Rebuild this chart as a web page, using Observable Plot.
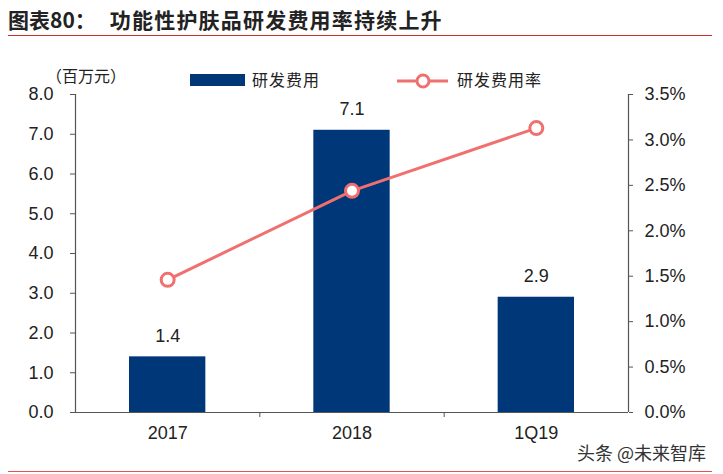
<!DOCTYPE html>
<html><head><meta charset="utf-8">
<script src="https://cdn.jsdelivr.net/npm/d3@7"></script>
<script src="https://cdn.jsdelivr.net/npm/@observablehq/plot@0.6"></script>
<style>
html,body{margin:0;padding:0;background:#fff;}
#wrap{position:relative;width:723px;height:474px;overflow:hidden;font-family:"Liberation Sans",Arial,sans-serif;}
#wrap svg{position:absolute;left:0;top:0;overflow:visible;}
.abs{position:absolute;white-space:nowrap;}
.cjk{font-family:"Noto Sans CJK SC","Noto Sans",sans-serif;}
</style>
</head><body>
<div id="wrap">
  <div class="abs cjk" style="left:8px;top:4px;font-size:21px;line-height:30px;font-weight:bold;color:#222;">图表80：<span style="margin-left:14px;letter-spacing:1.2px;">功能性护肤品研发费用率持续上升</span></div>
  <div class="abs" style="left:8px;top:35px;width:704px;height:1px;background:#c9302c;"></div>
  <div class="abs cjk" style="left:46px;top:63px;font-size:16px;color:#222;">（百万元）</div>
  <div class="abs" style="left:190px;top:74px;width:55px;height:12px;background:#003778;"></div>
  <div class="abs cjk" style="left:252px;top:67px;font-size:16px;color:#222;letter-spacing:1px;">研发费用</div>
  <svg class="abs" style="left:396px;top:70px;position:absolute;" width="60" height="22"><line x1="1" y1="11" x2="52" y2="11" stroke="#f07070" stroke-width="3"/><circle cx="27" cy="11" r="6" fill="#fff" stroke="#f07070" stroke-width="3"/></svg>
  <div class="abs cjk" style="left:457px;top:67px;font-size:16px;color:#222;letter-spacing:1px;">研发费用率</div>
  <div class="abs cjk" style="left:577px;top:439px;font-size:18px;line-height:26px;color:#333;">头条 @未来智库</div>
  <div class="abs" style="left:8px;top:471px;width:704px;height:1px;background:#e0564f;"></div>
</div>
<script>
const categories = ["2017", "2018", "1Q19"];
const expense = [1.4, 7.1, 2.9];          // 研发费用（百万元）
const expenseRate = [0.0146, 0.0244, 0.0313]; // 研发费用率
const leftTicks = [0,1,2,3,4,5,6,7,8];
const rightTicks = [0,0.005,0.01,0.015,0.02,0.025,0.03,0.035];

const data = categories.map((c, i) => ({c, i, v: expense[i], r: expenseRate[i]}));
const W = 723, H = 474;
const margins = {marginLeft: 75, marginRight: 95, marginTop: 94, marginBottom: 62};
const axisColor = "#555";
const font = "'Liberation Sans', Arial, sans-serif";

const p1 = Plot.plot({
  width: W, height: H, ...margins,
  style: {fontFamily: font, fontSize: "18px", color: "#222", background: "transparent"},
  x: {domain: [0, 3], axis: null},
  y: {domain: [0, 8], axis: null},
  marks: [
    Plot.rectY(data, {x1: d => d.i, x2: d => d.i + 1, y: "v", fill: "#003778", insetLeft: 54, insetRight: 54}),
    Plot.text(data, {x: d => d.i + 0.5, y: "v", text: d => d.v.toFixed(1), dy: -21, fontSize: 18, fill: "#222"}),
    Plot.axisY(leftTicks, {anchor: "left", label: null, tickSize: 5, tickPadding: 17, tickFormat: d => d.toFixed(1), stroke: axisColor, fill: "#222", fontSize: 18}),
    Plot.ruleX([0], {stroke: axisColor, strokeWidth: 1.2}),
    Plot.axisX([0.5, 1.5, 2.5], {anchor: "bottom", label: null, tickSize: 0, tickPadding: 14, tickFormat: d => categories[Math.floor(d)], fill: "#222", fontSize: 18}),
    Plot.axisX([1, 2], {anchor: "bottom", label: null, tickSize: 5, tickFormat: () => "", stroke: axisColor}),
    Plot.ruleY([0], {stroke: axisColor, strokeWidth: 1.2})
  ]
});

const p2 = Plot.plot({
  width: W, height: H, ...margins,
  style: {fontFamily: font, fontSize: "18px", color: "#222", background: "transparent"},
  x: {domain: [0, 3], axis: null},
  y: {domain: [0, 0.035], axis: null},
  marks: [
    Plot.ruleX([3], {stroke: axisColor, strokeWidth: 1.2}),
    Plot.axisY(rightTicks, {anchor: "right", label: null, tickSize: 4, tickPadding: 12, tickFormat: d => (d * 100).toFixed(1) + "%", stroke: axisColor, fill: "#222", fontSize: 18}),
    Plot.line(data, {x: d => d.i + 0.5, y: "r", stroke: "#f07070", strokeWidth: 3}),
    Plot.dot(data, {x: d => d.i + 0.5, y: "r", r: 6.5, fill: "#fff", stroke: "#f07070", strokeWidth: 3})
  ]
});

const wrap = document.getElementById("wrap");
wrap.insertBefore(p2, wrap.firstChild);
wrap.insertBefore(p1, wrap.firstChild);
</script>
</body></html>
